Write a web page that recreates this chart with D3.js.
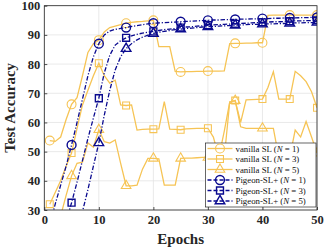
<!DOCTYPE html>
<html>
<head>
<meta charset="utf-8">
<script src="https://cdn.jsdelivr.net/npm/d3@7"></script>
<style>
body { margin: 0; background: #fff; }
text { font-family: "Liberation Serif", "DejaVu Serif", serif; }
</style>
</head>
<body>
<div id="chart"></div>
<script>
const epochs = d3.range(1, 51);
const markerEpochs = [1, 5, 10, 15, 20, 25, 30, 35, 40, 45, 50];
const xTicks = [0, 10, 20, 30, 40, 50];
const yTicks = [30, 40, 50, 60, 70, 80, 90, 100];

// vanilla SL
const vanilla1 = [53.8, 53.5, 55, 61, 66.2, 68.5, 76, 84, 87, 88.2,
  91, 92.5, 93, 93.5, 94, 94.3, 94.5, 94.6, 94.8, 95,
  86, 86, 86, 77.5, 77.3, 77.4, 77.4, 77.5, 77.5, 77.6,
  77.6, 77.6, 77.7, 87, 87.1, 87.1, 87.2, 87.2, 87.3, 87.3,
  96.7, 96.8, 96.8, 96.8, 96.8, 96.8, 96.8, 96.8, 96.8, 96.8];
const vanilla3 = [32, 36, 40, 45, 49.5, 58, 66, 71, 76, 80.3,
  76, 73.5, 74.5, 66, 65.8, 66, 57.4, 57.6, 57.7, 57.7,
  57.8, 67.1, 57.7, 57.6, 57.5, 57.8, 57.9, 58, 58, 58,
  55, 48, 57, 67, 67.5, 60, 67.7, 67.8, 67.9, 68,
  72, 77.4, 68, 68, 68, 77.5, 76, 74, 70.5, 65];
const vanilla5 = [15, 20, 28, 35, 41.7, 46, 46.4, 53, 51.5, 57.5,
  53.4, 52.9, 54, 46, 38.3, 38.3, 38.5, 44, 47.7, 47.7,
  47.5, 38.5, 38.5, 38.5, 47.7, 47.8, 47.8, 47.9, 48, 48,
  48, 48, 48, 67, 67.5, 58.5, 58, 58, 58, 58,
  58, 58, 48, 48, 48, 57.4, 55, 60.3, 55, 49.5];

// Pigeon-SL+
const pigeon1 = [25, 32, 38.5, 45, 52.3, 60, 68, 76, 82.5, 87,
  90, 91.3, 91.9, 92.2, 92.5, 92.9, 93.2, 93.5, 93.8, 94,
  94.1, 94.2, 94.3, 94.4, 94.5, 94.6, 94.7, 94.8, 94.9, 95,
  95.1, 95.1, 95.2, 95.2, 95.3, 95.4, 95.4, 95.5, 95.5, 95.6,
  95.6, 95.7, 95.7, 95.8, 95.8, 95.8, 95.9, 95.9, 96, 96];
const pigeon3 = [10, 15, 20, 26, 32.5, 39.5, 47, 54.5, 61.5, 68.3,
  77, 83, 86.5, 88, 89, 89.7, 90.2, 90.6, 90.9, 91.2,
  91.5, 91.8, 92, 92.2, 92.5, 92.7, 92.8, 93, 93.1, 93.3,
  93.4, 93.5, 93.6, 93.7, 93.8, 93.9, 94, 94.1, 94.2, 94.3,
  94.4, 94.5, 94.5, 94.6, 94.7, 94.8, 94.8, 94.9, 94.9, 95];
const pigeon5 = [2, 5, 8, 11, 15, 22, 29.5, 37, 45, 53,
  62.5, 71, 78, 82.5, 85.3, 87, 88.3, 89.2, 89.9, 90.5,
  90.9, 91.2, 91.5, 91.8, 92, 92.2, 92.3, 92.5, 92.7, 92.8,
  92.9, 93, 93.1, 93.2, 93.3, 93.4, 93.5, 93.6, 93.6, 93.7,
  93.8, 93.8, 93.9, 93.9, 94, 94.1, 94.1, 94.2, 94.2, 94.3];

const series = [
  { name: "vanilla SL", n: 1, values: vanilla1, marker: "circle", kind: "vanilla" },
  { name: "vanilla SL", n: 3, values: vanilla3, marker: "square", kind: "vanilla" },
  { name: "vanilla SL", n: 5, values: vanilla5, marker: "triangle", kind: "vanilla" },
  { name: "Pigeon-SL+", n: 1, values: pigeon1, marker: "circle", kind: "pigeon" },
  { name: "Pigeon-SL+", n: 3, values: pigeon3, marker: "square", kind: "pigeon" },
  { name: "Pigeon-SL+", n: 5, values: pigeon5, marker: "triangle", kind: "pigeon" }
];

const width = 329, height = 249;
const margin = { top: 5.7, right: 12, bottom: 39, left: 44.3 };
const yellow = "#f6c455", navy = "#0a0a8f";

const svg = d3.select("#chart").append("svg")
  .attr("width", width)
  .attr("height", height);

const x = d3.scaleLinear().domain([0, 50]).range([margin.left, width - margin.right]);
const y = d3.scaleLinear().domain([30, 100]).range([height - margin.bottom, margin.top]);

// grid
svg.append("g").selectAll("line").data(xTicks).join("line")
  .attr("x1", d => x(d)).attr("x2", d => x(d))
  .attr("y1", y(30)).attr("y2", y(100))
  .attr("stroke", "#e3e3e3").attr("stroke-width", 0.8);
svg.append("g").selectAll("line").data(yTicks).join("line")
  .attr("x1", x(0)).attr("x2", x(50))
  .attr("y1", d => y(d)).attr("y2", d => y(d))
  .attr("stroke", "#e3e3e3").attr("stroke-width", 0.8);

svg.append("clipPath").attr("id", "clip").append("rect")
  .attr("x", x(0)).attr("y", y(100))
  .attr("width", x(50) - x(0)).attr("height", y(30) - y(100));

const line = d3.line()
  .x((d, i) => x(epochs[i]))
  .y(d => y(d));

function markerPath(type, size) {
  if (type === "circle") return d3.symbol(d3.symbolCircle, size)();
  if (type === "square") return d3.symbol(d3.symbolSquare, size)();
  return d3.symbol(d3.symbolTriangle, size)();
}
const markerSize = { circle: 62, square: 48, triangle: 40 };

const plot = svg.append("g").attr("clip-path", "url(#clip)");

series.forEach(s => {
  const color = s.kind === "vanilla" ? yellow : navy;
  const g = plot.append("g");
  g.append("path")
    .datum(s.values)
    .attr("d", line)
    .attr("fill", "none")
    .attr("stroke", color)
    .attr("stroke-width", 1.3)
    .attr("stroke-dasharray", s.kind === "vanilla" ? null : "4.5,1.8,1.2,1.8");
  g.selectAll("path.m")
    .data(markerEpochs)
    .join("path")
    .attr("class", "m")
    .attr("transform", e => `translate(${x(e)},${y(s.values[e - 1])})`)
    .attr("d", markerPath(s.marker, markerSize[s.marker]))
    .attr("fill", "none")
    .attr("stroke", color)
    .attr("stroke-width", s.kind === "vanilla" ? 1.1 : 1.4);
});

// box
svg.append("rect")
  .attr("x", x(0)).attr("y", y(100))
  .attr("width", x(50) - x(0)).attr("height", y(30) - y(100))
  .attr("fill", "none").attr("stroke", "#262626").attr("stroke-width", 0.8);

// axes
const xAxis = svg.append("g")
  .attr("transform", `translate(0,${y(30)})`)
  .call(d3.axisBottom(x).tickValues(xTicks).tickSize(-3).tickPadding(5));
const yAxis = svg.append("g")
  .attr("transform", `translate(${x(0)},0)`)
  .call(d3.axisLeft(y).tickValues(yTicks).tickSize(-3).tickPadding(4));
[xAxis, yAxis].forEach(a => {
  a.select(".domain").remove();
  a.selectAll("line").attr("stroke", "#262626").attr("stroke-width", 0.8);
  a.selectAll("text")
    .style("font-family", "'Liberation Serif', serif")
    .style("font-size", "12.5px")
    .style("font-weight", "bold")
    .attr("fill", "#262626");
});

svg.append("text")
  .attr("x", (x(0) + x(50)) / 2).attr("y", 244)
  .attr("text-anchor", "middle")
  .style("font-size", "15px").style("font-weight", "bold")
  .attr("fill", "#262626")
  .text("Epochs");
svg.append("text")
  .attr("transform", `translate(15,${(y(30) + y(100)) / 2}) rotate(-90)`)
  .attr("text-anchor", "middle")
  .style("font-size", "15px").style("font-weight", "bold")
  .attr("fill", "#262626")
  .text("Test  Accuracy");

// legend
const lg = svg.append("g").attr("transform", "translate(205.5,143)");
lg.append("rect")
  .attr("width", 110.5).attr("height", 64)
  .attr("fill", "#fff").attr("stroke", "#262626").attr("stroke-width", 0.7);
series.forEach((s, i) => {
  const color = s.kind === "vanilla" ? yellow : navy;
  const row = lg.append("g").attr("transform", `translate(0,${5.5 + i * 10.5})`);
  row.append("line")
    .attr("x1", 2).attr("x2", 27)
    .attr("stroke", color).attr("stroke-width", 1.3)
    .attr("stroke-dasharray", s.kind === "vanilla" ? null : "4,2");
  row.append("path")
    .attr("transform", "translate(14.5,0)")
    .attr("d", markerPath(s.marker, markerSize[s.marker]))
    .attr("fill", "none").attr("stroke", color)
    .attr("stroke-width", s.kind === "vanilla" ? 1.1 : 1.4);
  const t = row.append("text")
    .attr("x", 30).attr("y", 3)
    .style("font-size", "8.8px")
    .attr("fill", "#111");
  t.append("tspan").text(`${s.name} (`);
  t.append("tspan").style("font-style", "italic").text("N");
  t.append("tspan").text(` = ${s.n})`);
});
</script>
</body>
</html>
